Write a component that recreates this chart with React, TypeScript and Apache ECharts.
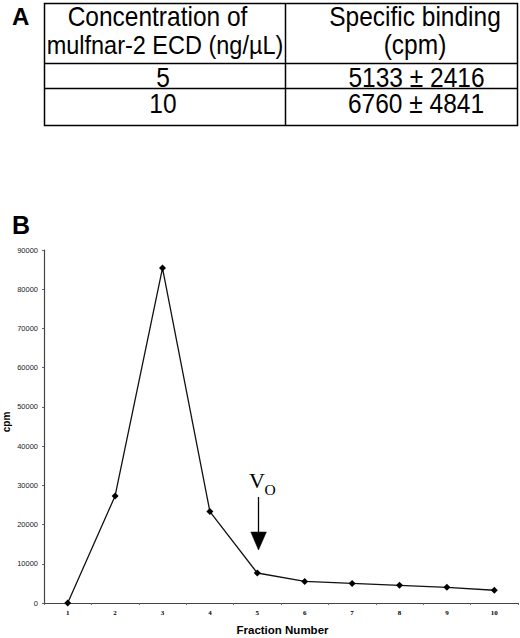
import React, { useEffect, useRef } from "react";
import * as echarts from "echarts";

// Table (panel A)
const tableHeaders = ["Concentration of", "mulfnar-2 ECD (ng/\u00b5L)", "Specific binding", "(cpm)"];
const concentrations = ["5", "10"];
const bindingValues = ["5133 \u00b1 2416", "6760 \u00b1 4841"];

// Chart (panel B)
const fractions = ["1", "2", "3", "4", "5", "6", "7", "8", "9", "10"];
const cpmValues = [0, 27300, 85400, 23300, 7650, 5500, 5000, 4500, 4000, 3250];
const yTicks = { min: 0, max: 90000, interval: 10000 };

const SANS = "'Liberation Sans', Arial, Helvetica, sans-serif";
const SERIF = "'Liberation Serif', 'Times New Roman', serif";

export default function App() {
  const ref = useRef<HTMLDivElement>(null);
  useEffect(() => {
    if (!ref.current) return;
    const chart = echarts.init(ref.current, null, { renderer: "svg" });
    const tfont = `24.5px ${SANS}`;
    const txt = (text: string, x: number, y: number, font: string, align = "center", extra: any = {}) => ({
      type: "text",
      x,
      y,
      ...extra,
      style: { text, font, fill: "#000", textAlign: align, textVerticalAlign: "middle" },
    });
    const ttxt = (text: string, x: number, y: number, font = tfont) =>
      txt(text, x, y, font, "center", { scaleY: 1.1 });
    const ln = (x1: number, y1: number, x2: number, y2: number, w = 1.5) => ({
      type: "line",
      shape: { x1, y1, x2, y2 },
      style: { stroke: "#000", lineWidth: w },
    });
    chart.setOption({
      animation: false,
      backgroundColor: "#fff",
      grid: { left: 44, right: 2, top: 250, bottom: 35, containLabel: false },
      xAxis: {
        type: "category",
        data: fractions,
        boundaryGap: true,
        axisLine: { lineStyle: { color: "#444", width: 1.2 } },
        axisTick: { show: true, length: 2, lineStyle: { color: "#666" } },
        axisLabel: {
          margin: 6,
          fontFamily: SERIF,
          fontWeight: "bold",
          fontSize: 7,
          color: "#000",
        },
        splitLine: { show: false },
      },
      yAxis: {
        type: "value",
        min: yTicks.min,
        max: yTicks.max,
        interval: yTicks.interval,
        axisLine: { show: true, lineStyle: { color: "#444", width: 1.2 } },
        axisTick: { show: true, length: 2, lineStyle: { color: "#666" } },
        axisLabel: {
          margin: 6,
          fontFamily: SANS,
          fontSize: 7.5,
          color: "#222",
          formatter: (v: number) => String(v),
        },
        splitLine: { show: false },
      },
      series: [
        {
          type: "line",
          data: cpmValues,
          symbol: "diamond",
          symbolSize: 7,
          itemStyle: { color: "#000" },
          lineStyle: { color: "#111", width: 1.3 },
        },
      ],
      graphic: [
        // Panel A
        txt("A", 12, 16.5, `bold 24px ${SANS}`, "left"),
        {
          type: "rect",
          shape: { x: 44.5, y: 3.5, width: 473, height: 122 },
          style: { fill: "none", stroke: "#000", lineWidth: 1.5 },
        },
        ln(285.5, 3.5, 285.5, 125.5),
        ln(44.5, 63.5, 517.5, 63.5),
        ln(44.5, 88.5, 517.5, 88.5),
        ttxt(tableHeaders[0], 157.5, 17),
        ttxt(tableHeaders[1], 165, 45, `23.5px ${SANS}`),
        ttxt(tableHeaders[2], 415, 17),
        ttxt(tableHeaders[3], 415, 45),
        ttxt(concentrations[0], 163, 77.3),
        ttxt(bindingValues[0], 416.5, 77.3),
        ttxt(concentrations[1], 163, 104),
        ttxt(bindingValues[1], 416, 104),
        // Panel B
        txt("B", 12, 225, `bold 25px ${SANS}`, "left"),
        txt("cpm", 6, 422, `bold 10px ${SANS}`, "center", { rotation: Math.PI / 2 }),
        txt("Fraction Number", 282.5, 630, `bold 11.5px ${SANS}`),
        txt("V", 249, 480, `22px ${SERIF}`, "left"),
        txt("O", 264.5, 489, `15.5px ${SERIF}`, "left"),
        ln(258.5, 497, 258.5, 533, 1.3),
        {
          type: "polygon",
          shape: { points: [[250.8, 532], [266.4, 532], [258.5, 550]] },
          style: { fill: "#000", stroke: "#000", lineWidth: 0.5 },
        },
      ],
    });
    return () => chart.dispose();
  }, []);
  return (
    <div
      ref={ref}
      style={{ position: "fixed", left: 0, top: 0, width: 520, height: 638, background: "#fff" }}
    />
  );
}
